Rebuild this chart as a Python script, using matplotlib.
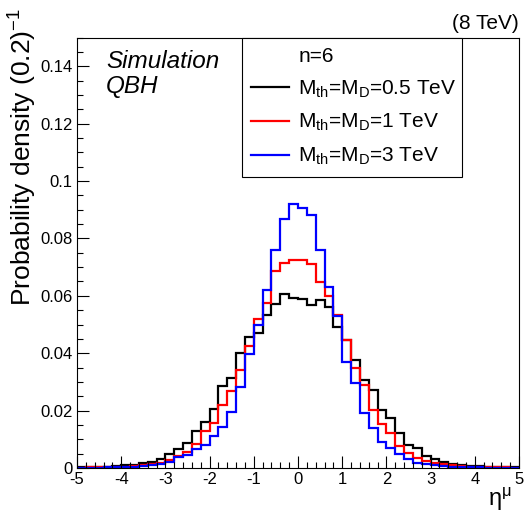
import numpy as np
import matplotlib
matplotlib.use("Agg")
import matplotlib.pyplot as plt
from matplotlib.lines import Line2D
from matplotlib.ticker import MultipleLocator, FuncFormatter

plt.rcParams['font.family'] = ['Liberation Sans', 'DejaVu Sans']
plt.rcParams['mathtext.fontset'] = 'custom'
plt.rcParams['mathtext.rm'] = 'Liberation Sans'
plt.rcParams['mathtext.it'] = 'Liberation Sans:italic'
plt.rcParams['axes.unicode_minus'] = False

# eta bins of width 0.2 between -5 and 5
bin_edges = np.round(np.arange(-5.0, 5.0001, 0.2), 1)

# probability density per bin (left to right)
dens_05tev = [0.0002, 0.0003, 0.0004, 0.0005, 0.0007, 0.0009, 0.0012, 0.0016, 0.0021, 0.0031,
              0.0048, 0.0066, 0.0087, 0.0129, 0.0159, 0.0204, 0.0285, 0.0314, 0.0399, 0.0458,
              0.0470, 0.0532, 0.0573, 0.0608, 0.0594, 0.0589, 0.0567, 0.0585, 0.0562, 0.0493,
              0.0447, 0.0376, 0.0307, 0.0271, 0.0202, 0.0173, 0.0123, 0.0080, 0.0068, 0.0042,
              0.0030, 0.0022, 0.0014, 0.0010, 0.0008, 0.0006, 0.0004, 0.0003, 0.0002, 0.0002]
dens_1tev = [0.0001, 0.0002, 0.0002, 0.0003, 0.0004, 0.0005, 0.0007, 0.0009, 0.0013, 0.0018,
             0.0028, 0.0043, 0.0057, 0.0083, 0.0129, 0.0158, 0.0218, 0.0269, 0.0343, 0.0424,
             0.0519, 0.0576, 0.0687, 0.0714, 0.0724, 0.0726, 0.0710, 0.0648, 0.0598, 0.0533,
             0.0447, 0.0348, 0.0290, 0.0202, 0.0155, 0.0122, 0.0078, 0.0053, 0.0035, 0.0025,
             0.0018, 0.0013, 0.0009, 0.0007, 0.0005, 0.0004, 0.0003, 0.0002, 0.0002, 0.0001]
dens_3tev = [0.0001, 0.0001, 0.0001, 0.0002, 0.0002, 0.0003, 0.0004, 0.0006, 0.0009, 0.0014,
             0.0022, 0.0037, 0.0045, 0.0065, 0.0081, 0.0111, 0.0144, 0.0196, 0.0283, 0.0398,
             0.0497, 0.0620, 0.0758, 0.0868, 0.0921, 0.0905, 0.0880, 0.0758, 0.0630, 0.0530,
             0.0368, 0.0295, 0.0190, 0.0140, 0.0092, 0.0068, 0.0049, 0.0030, 0.0018, 0.0013,
             0.0009, 0.0006, 0.0004, 0.0003, 0.0002, 0.0002, 0.0001, 0.0001, 0.0001, 0.0001]

series = [dens_05tev, dens_1tev, dens_3tev]
colors = ['black', 'red', 'blue']
labels = [r'M$_{\rm th}$=M$_{\rm D}$=0.5 TeV',
          r'M$_{\rm th}$=M$_{\rm D}$=1 TeV',
          r'M$_{\rm th}$=M$_{\rm D}$=3 TeV']

fig = plt.figure(figsize=(5.27, 5.22), dpi=100)
ax = fig.add_axes([77 / 527, 1 - 468 / 522, 442 / 527, 430.5 / 522])

for vals, col in zip(series, colors):
    ax.stairs(vals, bin_edges, color=col, lw=1.6)

ax.set_xlim(-5, 5)
ax.set_ylim(0, 0.15)

# ROOT-like axes: ticks inside, only on bottom and left
ax.xaxis.set_major_locator(MultipleLocator(1))
ax.xaxis.set_minor_locator(MultipleLocator(0.2))
ax.yaxis.set_major_locator(MultipleLocator(0.02))
ax.yaxis.set_minor_locator(MultipleLocator(0.005))
ax.yaxis.set_major_formatter(FuncFormatter(lambda v, p: f'{v:g}'))
ax.xaxis.set_major_formatter(FuncFormatter(lambda v, p: f'{v:g}'))
ax.tick_params(which='both', direction='in', top=False, right=False, width=0.8, labelsize=12, pad=3)
ax.tick_params(which='major', length=8.5)
ax.tick_params(which='minor', length=4.3)
for sp in ax.spines.values():
    sp.set_linewidth(0.8)

fig.text(23 / 527, 1 - 8 / 522, r'Probability density (0.2)$^{-1}$', rotation=90,
         ha='center', va='top', fontsize=19)
ax.text(0.983, -0.042, r'η$^{\mathrm{μ}}$', transform=ax.transAxes, ha='right', va='top',
        fontsize=17)
ax.text(1.0, 1.02, '(8 TeV)', transform=ax.transAxes, ha='right', va='baseline', fontsize=15)
ax.text(0.0656, 0.971, 'Simulation\nQBH', transform=ax.transAxes, ha='left', va='top',
        fontsize=17.5, style='italic', linespacing=1.1)

handles = [Line2D([], [], color='none')]
handles += [Line2D([], [], color=c, lw=1.6) for c in colors]
leg = ax.legend(handles, ['n=6'] + labels, loc='upper left',
                bbox_to_anchor=(0.373, 0.6876, 0.498, 0.3124), mode='expand',
                fontsize=15, frameon=True, fancybox=False, edgecolor='black', framealpha=1,
                borderaxespad=0, borderpad=0.45, handlelength=1.8, handletextpad=0.45,
                labelspacing=0.6)
leg.get_frame().set_linewidth(0.8)

fig.savefig('out.png', dpi=100)
